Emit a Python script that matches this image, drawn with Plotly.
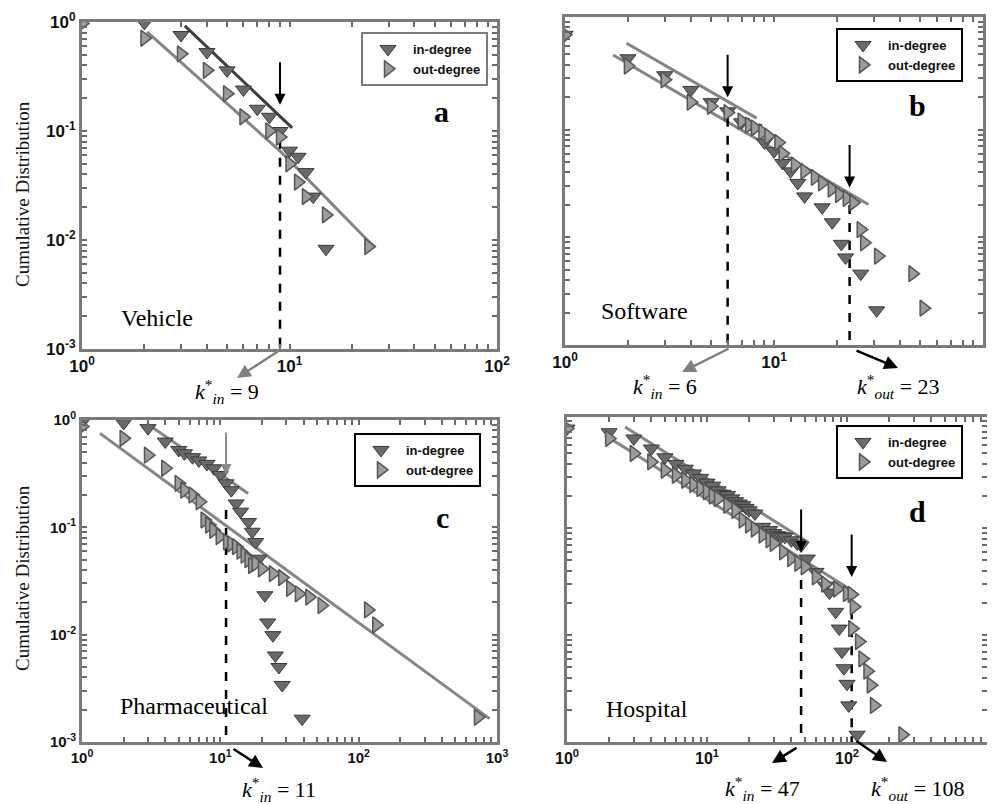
import math
import plotly.graph_objects as go

# the page body adds an 8px margin, so the figure is drawn 8px smaller and
# all reference pixel positions are shifted by that offset
OFF = 8
W, H = 995 - OFF, 804 - OFF

# ---------------- data ----------------
# Panel a : Vehicle
a_in_k = [1, 2, 3, 4, 5, 6, 7, 8, 9, 10, 11, 12, 13, 15]
a_in_p = [1.0, 0.98, 0.76, 0.53, 0.36, 0.24, 0.16, 0.135, 0.10, 0.066, 0.058, 0.042, 0.025, 0.0083]
a_out_k = [1, 2, 3, 4, 5, 6, 8, 9, 10, 11, 12, 15, 24]
a_out_p = [0.97, 0.71, 0.51, 0.36, 0.22, 0.135, 0.10, 0.088, 0.05, 0.034, 0.025, 0.017, 0.0087]
a_fit_in_k = [3.13, 10.3]
a_fit_in_p = [0.92, 0.107]
a_fit_out_k = [2.06, 9.2, 25.8]
a_fit_out_p = [0.81, 0.063, 0.0085]

# Panel b : Software
b_in_k = [1, 2, 3, 4, 5, 6, 7, 8, 9, 10, 11, 12, 13, 14, 17, 19, 21, 22, 26, 31]
b_in_p = [0.76, 0.46, 0.32, 0.234, 0.18, 0.148, 0.117, 0.104, 0.076, 0.063, 0.049, 0.041,
          0.032, 0.024, 0.019, 0.0138, 0.0087, 0.0065, 0.0046, 0.0021]
b_out_k = [1, 2, 3, 4, 5, 6, 7, 7.6, 8.1, 8.8, 9.4, 10.5, 11, 12.6, 14, 15.7, 17, 18.9, 20.5,
           22.3, 24, 26, 27, 31.5, 46, 52]
b_out_p = [0.76, 0.39, 0.29, 0.18, 0.165, 0.144, 0.12, 0.11, 0.104, 0.095, 0.087, 0.076, 0.06,
           0.047, 0.041, 0.036, 0.032, 0.028, 0.025, 0.023, 0.021, 0.0118, 0.0089, 0.0067,
           0.0046, 0.0022]
b_fit_in_k = [1.97, 8.26]
b_fit_in_p = [0.635, 0.128]
b_fit_out_k = [1.70, 28.3]
b_fit_out_p = [0.494, 0.0202]

# Panel c : Pharmaceutical
c_in_k = [1, 2, 3, 4, 5, 5.5, 6.3, 7, 8, 9, 10, 11, 12, 13, 14, 16, 17, 18, 19, 21, 22, 24,
          25, 26.5, 28, 39]
c_in_p = [0.95, 0.94, 0.84, 0.63, 0.525, 0.49, 0.45, 0.42, 0.39, 0.355, 0.307, 0.257, 0.222,
          0.167, 0.14, 0.112, 0.091, 0.073, 0.051, 0.0233, 0.013, 0.0099, 0.0064, 0.005,
          0.0034, 0.00165]
c_out_k = [1, 2, 3, 4, 5, 5.5, 6.3, 7.1, 7.7, 8.3, 8.9, 9.9, 11.2, 12, 13, 14, 15, 16, 17, 18,
           20, 24, 28, 32, 37, 44, 54, 117, 134, 728]
c_out_p = [0.87, 0.675, 0.47, 0.355, 0.257, 0.222, 0.2, 0.173, 0.117, 0.105, 0.094, 0.082,
           0.073, 0.07, 0.066, 0.06, 0.055, 0.05, 0.044, 0.046, 0.041, 0.037, 0.034, 0.027,
           0.024, 0.0224, 0.0187, 0.017, 0.0123, 0.0017]
c_fit_in_k = [2.93, 15.9]
c_fit_in_p = [0.93, 0.207]
c_fit_out_k = [1.35, 883]
c_fit_out_p = [0.75, 0.00165]

# Panel d : Hospital
d_in_k = [1, 2, 3, 4, 5, 6, 7, 8, 9, 10, 11, 12, 13, 14, 15, 16, 17, 18, 19, 20, 22, 25, 28,
          30, 32, 34, 36, 40, 44, 47, 52, 60, 70, 75, 83, 88, 92, 95, 100, 103, 118]
d_in_p = [0.855, 0.79, 0.69, 0.556, 0.46, 0.40, 0.36, 0.325, 0.295, 0.267, 0.25, 0.226, 0.21,
          0.204, 0.19, 0.179, 0.17, 0.164, 0.155, 0.147, 0.137, 0.103, 0.096, 0.09, 0.086,
          0.084, 0.083, 0.077, 0.072, 0.069, 0.052, 0.039, 0.029, 0.025, 0.0165, 0.0115,
          0.0070, 0.0049, 0.0035, 0.0022, 0.00117]
d_out_k = [1, 2, 3, 4, 5, 6, 7, 8, 9, 10, 11, 12, 14, 16, 18, 20, 22, 25, 28, 30, 35, 40, 45,
           50, 60, 70, 85, 100, 108, 112, 109, 122, 129, 140, 148, 156, 249]
d_out_p = [0.855, 0.69, 0.50, 0.417, 0.348, 0.313, 0.281, 0.256, 0.235, 0.219, 0.2, 0.189,
           0.164, 0.147, 0.119, 0.107, 0.098, 0.086, 0.078, 0.072, 0.060, 0.052, 0.047,
           0.0435, 0.035, 0.030, 0.027, 0.0245, 0.024, 0.0184, 0.0115, 0.0087, 0.006,
           0.0046, 0.0034, 0.0022, 0.00117]
d_fit_in_k = [2.6, 52]
d_fit_in_p = [0.885, 0.0745]
d_fit_out_k = [1.87, 112]
d_fit_out_p = [0.74, 0.0254]

# crossover degrees
kstar = {"a": {"in": 9}, "b": {"in": 6, "out": 23}, "c": {"in": 11}, "d": {"in": 47, "out": 108}}
# top of dashed guide lines (cumulative value)
dash_top = {"a": {"in": 0.083}, "b": {"in": 0.129, "out": 0.020}, "c": {"in": 0.145},
            "d": {"in": 0.0327, "out": 0.0252}}
# tip of the vertical arrows
arrow_tip = {"a": {"in": 0.174}, "b": {"in": 0.20, "out": 0.029}, "c": {"in": 0.307},
             "d": {"in": 0.060, "out": 0.035}}

x_decades_2 = [1, 10, 100]
x_decades_3 = [1, 10, 100, 1000]
y_decades = [0.001, 0.01, 0.1, 1]

names = {"a": "Vehicle", "b": "Software", "c": "Pharmaceutical", "d": "Hospital"}


def decade_label(v):
    e = int(round(math.log10(v)))
    return "<b>10<sup>%d</sup></b>" % e


def ticks_with_minor(decades):
    vals, text = [], []
    for d in decades:
        vals.append(d)
        text.append(decade_label(d))
        if d != decades[-1]:
            for m in range(2, 10):
                vals.append(d * m)
                text.append("")
    return vals, text


# ---------------- styling / layout ----------------
def px(x, y):
    return (x - OFF) / W, 1 - (y - OFF) / H

def dom_x(a, b):
    return [(a - OFF) / W, (b - OFF) / W]

def dom_y(top, bottom):
    return [1 - (bottom - OFF) / H, 1 - (top - OFF) / H]

FRAME = "#7b7b7b"
IN_COL, IN_EDGE = "#6a6a6a", "#3a3a3a"
OUT_COL, OUT_EDGE = "#9c9c9c", "#555555"
SANS = "Liberation Sans, Arial, sans-serif"
SERIF = "Liberation Serif, Times New Roman, serif"

panels = {
    "a": ((82, 497), (22, 349), [0, 2], [-3, 0], x_decades_2, True, 17, (361, 32), FRAME),
    "b": ((565, 983), (17, 345), [0, 2], [-3, 0.046], x_decades_2, False, 17, (836, 28), "#000"),
    "c": ((82, 497), (420, 742), [0, 3], [-3, 0], x_decades_3, True, 15, (354, 433), "#000"),
    "d": ((567, 987), (417, 742), [0, 3], [-3, 0.04], x_decades_3, False, 16, (836, 425), "#000"),
}

data = {
    "a": (a_in_k, a_in_p, a_out_k, a_out_p, a_fit_in_k, a_fit_in_p, a_fit_out_k, a_fit_out_p),
    "b": (b_in_k, b_in_p, b_out_k, b_out_p, b_fit_in_k, b_fit_in_p, b_fit_out_k, b_fit_out_p),
    "c": (c_in_k, c_in_p, c_out_k, c_out_p, c_fit_in_k, c_fit_in_p, c_fit_out_k, c_fit_out_p),
    "d": (d_in_k, d_in_p, d_out_k, d_out_p, d_fit_in_k, d_fit_in_p, d_fit_out_k, d_fit_out_p),
}

fig = go.Figure()
layout = dict(width=W, height=H, margin=dict(l=0, r=0, t=0, b=0, autoexpand=False),
              paper_bgcolor="white", plot_bgcolor="white", showlegend=True)
annotations = []

yv, yt = ticks_with_minor(y_decades)

for i, key in enumerate(["a", "b", "c", "d"]):
    n = "" if i == 0 else str(i + 1)
    xa, ya = "x" + n, "y" + n
    legname = "legend" + n
    (xd, yd, xr, yr, xdec, showy, tfs, legpos, legborder) = panels[key]
    in_k, in_p, out_k, out_p, fik, fip, fok, fop = data[key]
    xv, xt = ticks_with_minor(xdec)

    fit_in_col = "#3e3e3e" if key == "a" else "#858585"
    fig.add_trace(go.Scatter(x=fok, y=fop, mode="lines", xaxis=xa, yaxis=ya, showlegend=False,
                             line=dict(color="#858585", width=3), hoverinfo="skip"))
    fig.add_trace(go.Scatter(x=fik, y=fip, mode="lines", xaxis=xa, yaxis=ya, showlegend=False,
                             line=dict(color=fit_in_col, width=3), hoverinfo="skip"))
    for side in kstar[key]:
        ks = kstar[key][side]
        fig.add_trace(go.Scatter(x=[ks, ks], y=[dash_top[key][side], 10 ** yr[0]], mode="lines",
                                 xaxis=xa, yaxis=ya, showlegend=False, hoverinfo="skip",
                                 line=dict(color="black", width=2.5, dash="dash")))
    fig.add_trace(go.Scatter(x=in_k, y=in_p, mode="markers", name="<b>in-degree</b>",
                             xaxis=xa, yaxis=ya, legend=legname,
                             marker=dict(symbol="triangle-down", size=14, color=IN_COL,
                                         line=dict(color=IN_EDGE, width=1))))
    fig.add_trace(go.Scatter(x=out_k, y=out_p, mode="markers", name="<b>out-degree</b>",
                             xaxis=xa, yaxis=ya, legend=legname,
                             marker=dict(symbol="triangle-right", size=14, color=OUT_COL,
                                         line=dict(color=OUT_EDGE, width=1.5))))

    axis_common = dict(type="log", showline=True, linecolor=FRAME, linewidth=3, mirror="ticks",
                       ticks="inside", ticklen=5, tickwidth=1.5, tickcolor="#6a6a6a", showgrid=False,
                       zeroline=False, automargin=False)
    layout["xaxis" + n] = dict(axis_common, domain=dom_x(*xd), range=xr, anchor=ya,
                               tickmode="array", tickvals=xv, ticktext=xt,
                               tickfont=dict(family=SANS, size=tfs, color="#111"))
    layout["yaxis" + n] = dict(axis_common, domain=dom_y(*yd), range=yr, anchor=xa,
                               tickmode="array", tickvals=yv, ticktext=yt,
                               showticklabels=showy,
                               tickfont=dict(family=SANS, size=tfs, color="#111"))
    lx, ly = px(*legpos)
    layout[legname] = dict(x=lx, y=ly, xanchor="left", yanchor="top", bgcolor="white",
                           bordercolor=legborder, borderwidth=2, itemwidth=40, tracegroupgap=0,
                           font=dict(family=SANS, size=13, color="#111"))

    for side in kstar[key]:
        ks = kstar[key][side]
        annotations.append(dict(x=math.log10(ks), y=math.log10(arrow_tip[key][side]), xref=xa, yref=ya,
                                text="", showarrow=True, ax=0, ay=-44, arrowhead=2, arrowsize=1.1,
                                arrowwidth=2, arrowcolor="#8a8a8a" if key == "c" else "black"))

letter_pos = {"a": (441, 111), "b": (917, 105), "c": (442, 517), "d": (917, 511)}
name_pos = {"a": (157, 318), "b": (644, 311), "c": (194, 706), "d": (647, 709)}
for key in "abcd":
    x, y = px(*letter_pos[key])
    annotations.append(dict(x=x, y=y, xref="paper", yref="paper", text="<b>%s</b>" % key,
                            xanchor="center", yanchor="middle",
                            showarrow=False, font=dict(family=SERIF, size=30, color="black")))
    x, y = px(*name_pos[key])
    annotations.append(dict(x=x, y=y, xref="paper", yref="paper", text=names[key],
                            xanchor="center", yanchor="middle",
                            showarrow=False, font=dict(family=SERIF, size=24, color="black")))

for yc in (194, 578):
    x, y = px(22, yc)
    annotations.append(dict(x=x, y=y, xref="paper", yref="paper", text="Cumulative Distribution",
                            xanchor="center", yanchor="middle", textangle=-90, showarrow=False,
                            font=dict(family=SERIF, size=19, color="#111")))

below = [
    ((237, 378), (43, -28), "#808080", "in", kstar["a"]["in"], (227, 391)),
    ((682, 372), (48, -24), "#808080", "in", kstar["b"]["in"], (665, 386)),
    ((898, 368), (-43, -18), "black", "out", kstar["b"]["out"], (898, 386)),
    ((263, 768), (-31, -20), "black", "in", kstar["c"]["in"], (279, 789)),
    ((772, 763), (26, -16), "black", "in", kstar["d"]["in"], (762, 788)),
    ((887, 762), (-32, -22), "black", "out", kstar["d"]["out"], (918, 788)),
]
for head, (ax_, ay_), col, side, val, lab in below:
    x, y = px(*head)
    annotations.append(dict(x=x, y=y, xref="paper", yref="paper", text="", showarrow=True,
                            ax=ax_, ay=ay_, arrowhead=2, arrowsize=1.1, arrowwidth=2.5, arrowcolor=col))
    x, y = px(*lab)
    annotations.append(dict(x=x, y=y, xref="paper", yref="paper",
                            xanchor="center", yanchor="middle",
                            text="<i>k</i><sup>*</sup><sub><i>%s</i></sub> = %d" % (side, val),
                            showarrow=False, font=dict(family=SERIF, size=22, color="black")))

layout["annotations"] = annotations
fig.update_layout(**layout)
fig.write_html("out.html")
